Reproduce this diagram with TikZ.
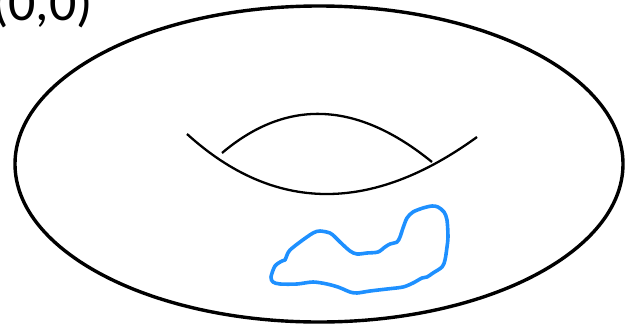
\documentclass[tikz,border=0pt]{standalone}
\usepackage{fontspec}
\setmainfont{Carlito}
\definecolor{loopblue}{HTML}{1E90FF}

\begin{document}
\begin{tikzpicture}[x=1pt, y=-1pt]

        % === Frame (626 x 327) ===
        \useasboundingbox (0,0) rectangle (626,327);
        \clip (0,0) rectangle (626,327);

        % Origin label, cut by the top edge
        \node[anchor=base west, inner sep=0pt, font=\fontsize{54}{60}\selectfont] (origin) at (-8,20) {(0,0)};

        % === Torus outline ===
        \draw[line width=3.4pt] (319,164) ellipse [x radius=304, y radius=158];

        % === Hole: lower and upper arcs ===
        \draw[line width=2.3pt] (187,134) .. controls (274,213) and (371,214) .. (477,137);
        \draw[line width=2.3pt] (222,153) .. controls (287,98) and (357,101) .. (432,162);

        % === Closed loop on the surface ===
        \draw[line width=3.6pt, loopblue, line join=round]
            plot[smooth cycle, tension=0.5] coordinates {
                (271,277) (275,266) (282,261) (285,260) (287,255) (290,250)
                (300,242) (313,233) (320,231) (330,233) (335,237) (340,242)
                (350,251) (357,254) (367,253) (378,252) (385,247) (390,244)
                (397,242) (400,237) (403,228) (407,218) (413,212) (423,208)
                (432,206) (438,207) (444,212) (447,220) (448,237) (447,247)
                (445,260) (442,267) (433,273) (427,277) (422,278) (413,283)
                (403,287) (387,289) (370,291) (357,293) (350,292) (343,289)
                (338,287) (327,284) (313,282) (297,284) (280,284) (273,282)};

    \end{tikzpicture}
\end{document}
